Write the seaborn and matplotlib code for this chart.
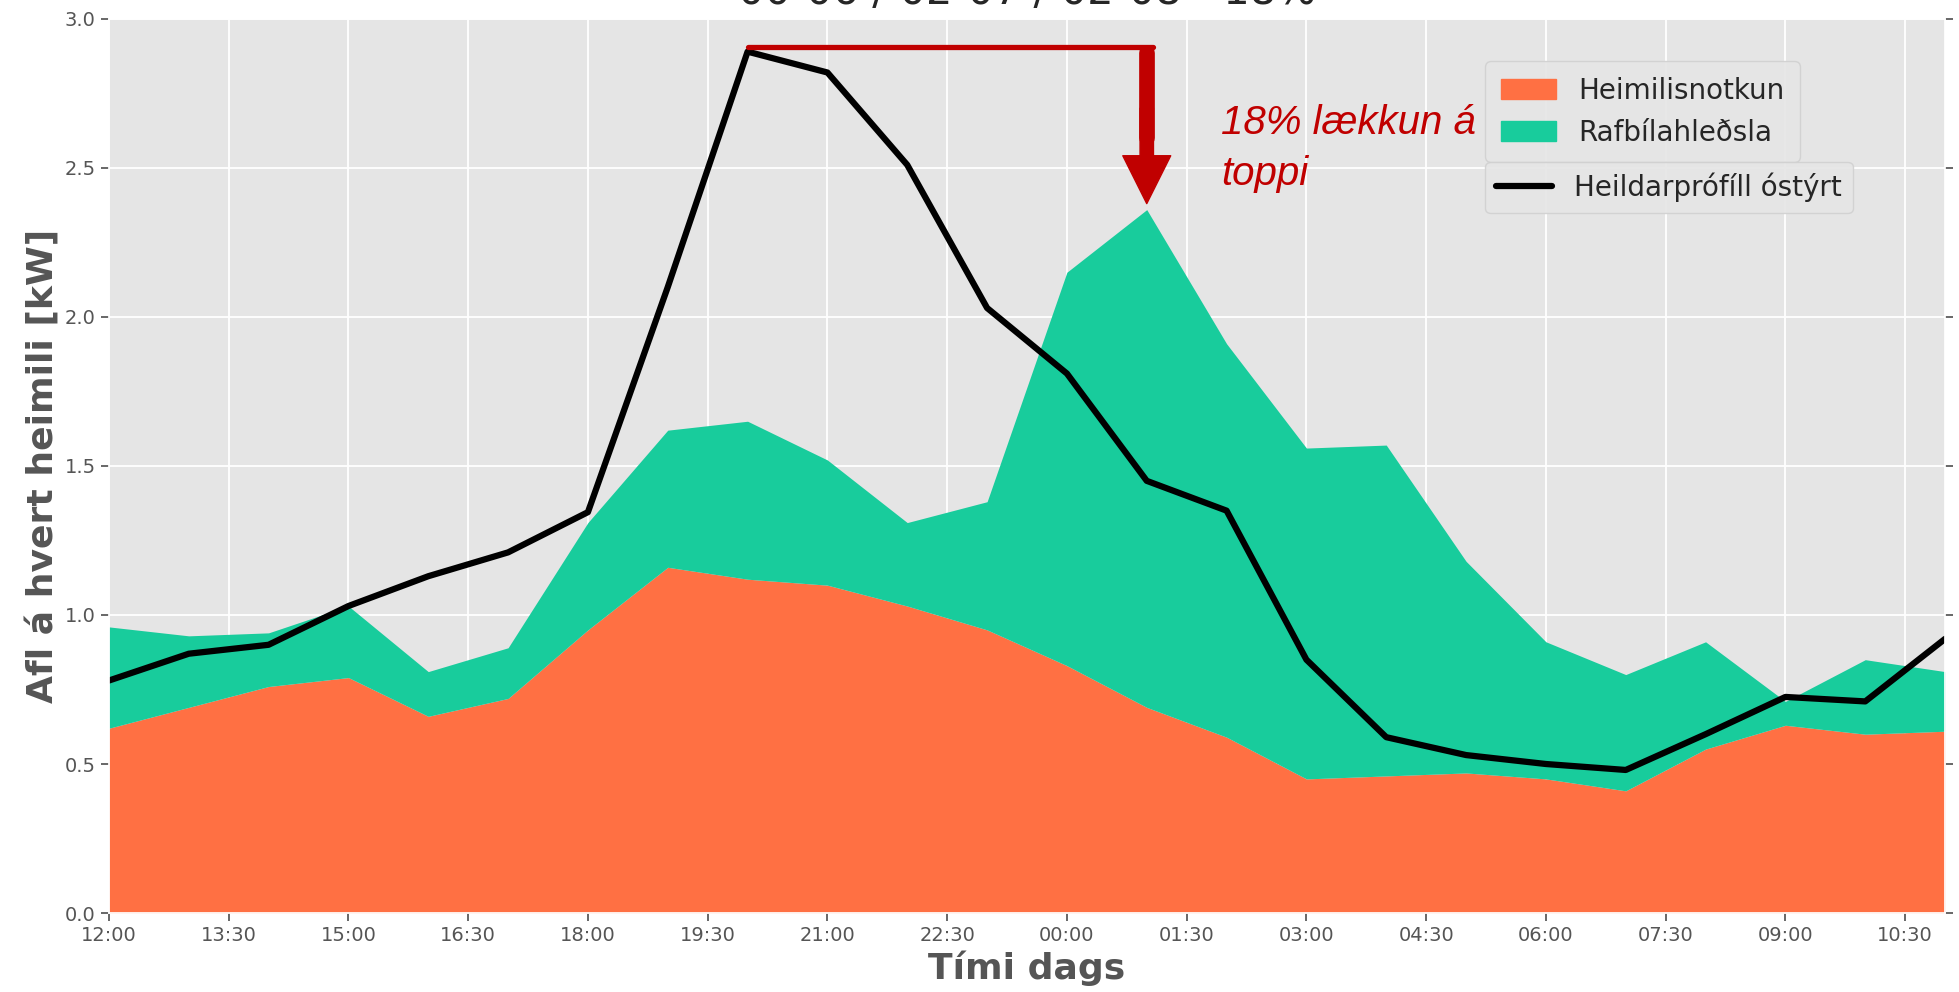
import numpy as np
import pandas as pd
import seaborn as sns
from matplotlib import pyplot as plt
from matplotlib.patches import Patch
from matplotlib.lines import Line2D

# hourly values, 12:00 -> 11:00 next day
hours = list(range(24))
household = [0.62, 0.69, 0.76, 0.79, 0.66, 0.72, 0.95, 1.16, 1.12, 1.10, 1.03, 0.95,
             0.83, 0.69, 0.59, 0.45, 0.46, 0.47, 0.45, 0.41, 0.55, 0.63, 0.60, 0.61]
stack_top = [0.96, 0.93, 0.94, 1.03, 0.81, 0.89, 1.31, 1.62, 1.65, 1.52, 1.31, 1.38,
             2.15, 2.36, 1.91, 1.56, 1.57, 1.18, 0.91, 0.80, 0.91, 0.71, 0.85, 0.81]
ev_charging = [t - h for t, h in zip(stack_top, household)]
total_uncontrolled = [0.78, 0.87, 0.90, 1.03, 1.13, 1.21, 1.345, 2.10, 2.89, 2.82, 2.51, 2.03,
                      1.81, 1.45, 1.35, 0.85, 0.59, 0.53, 0.50, 0.48, 0.60, 0.725, 0.71, 0.92]
tick_pos = [i * 1.5 for i in range(16)]
tick_labels = ["12:00", "13:30", "15:00", "16:30", "18:00", "19:30", "21:00", "22:30",
               "00:00", "01:30", "03:00", "04:30", "06:00", "07:30", "09:00", "10:30"]

peak_hour, peak_val = 8, 2.905
new_peak_hour, new_peak_val = 13, 2.38

c_house = "#FF7043"
c_ev = "#18CC9C"
c_red = "#C00000"

sns.set_theme(style="darkgrid", rc={
    "axes.facecolor": "#E5E5E5",
    "grid.color": "white",
    "grid.linewidth": 1.3,
    "xtick.bottom": True,
    "ytick.left": True,
    "xtick.color": "#555555",
    "ytick.color": "#555555",
})
plt.rcParams["font.family"] = ["DejaVu Sans"]

df = pd.DataFrame({"hour": hours, "total": total_uncontrolled})

fig, ax = plt.subplots(figsize=(19.59, 9.92), dpi=100)
fig.subplots_adjust(left=0.0556, right=0.9929, top=0.981, bottom=0.0796)

ax.stackplot(hours, household, ev_charging, colors=[c_house, c_ev], linewidth=0)
sns.lineplot(data=df, x="hour", y="total", color="black", linewidth=4.5, ax=ax)

# peak reduction annotation
ax.plot([peak_hour, new_peak_hour + 0.08], [peak_val, peak_val], color=c_red,
        linewidth=3.8, solid_capstyle="round")
ax.plot([new_peak_hour, new_peak_hour], [peak_val - 0.02, 2.6], color=c_red,
        linewidth=11.3, solid_capstyle="round")
ax.annotate("", xy=(new_peak_hour, new_peak_val), xytext=(new_peak_hour, 2.7),
            arrowprops=dict(arrowstyle="simple,head_length=1.0,head_width=1.0,tail_width=0.28",
                            color=c_red, shrinkA=0, shrinkB=0, mutation_scale=34.5))
ax.text(13.93, 2.715, "18% lækkun á\ntoppi", color=c_red, fontsize=29, style="italic",
        family="Liberation Sans", ha="left", va="top", linespacing=1.45)

ax.set_xlim(0, 23)
ax.set_ylim(0, 3.0)
ax.set_xticks(tick_pos)
ax.set_xticklabels(tick_labels)
ax.tick_params(axis="both", labelsize=14, length=6, color="#555555")
ax.tick_params(axis="y", right=True)
ax.set_xlabel("Tími dags", fontsize=26, fontweight="bold", color="#555555")
ax.set_ylabel("Afl á hvert heimili [kW]", fontsize=26, fontweight="bold", color="#555555")
ax.set_title("00-06 / 02-07 / 02-08 - 18%", fontsize=30, y=1.017, pad=0)

leg1 = ax.legend(handles=[Patch(color=c_house, label="Heimilisnotkun"),
                          Patch(color=c_ev, label="Rafbílahleðsla")],
                 loc="upper left", bbox_to_anchor=(0.742, 0.968), fontsize=20,
                 borderpad=0.55, facecolor="#E5E5E5", edgecolor="#D0D0D0", framealpha=0.9)
ax.add_artist(leg1)
ax.legend(handles=[Line2D([], [], color="black", linewidth=4.5, label="Heildarprófíll óstýrt")],
          loc="upper left", bbox_to_anchor=(0.742, 0.856), fontsize=20,
          facecolor="#E5E5E5", edgecolor="#D0D0D0", framealpha=0.9)

fig.savefig("out.png", dpi=100)
